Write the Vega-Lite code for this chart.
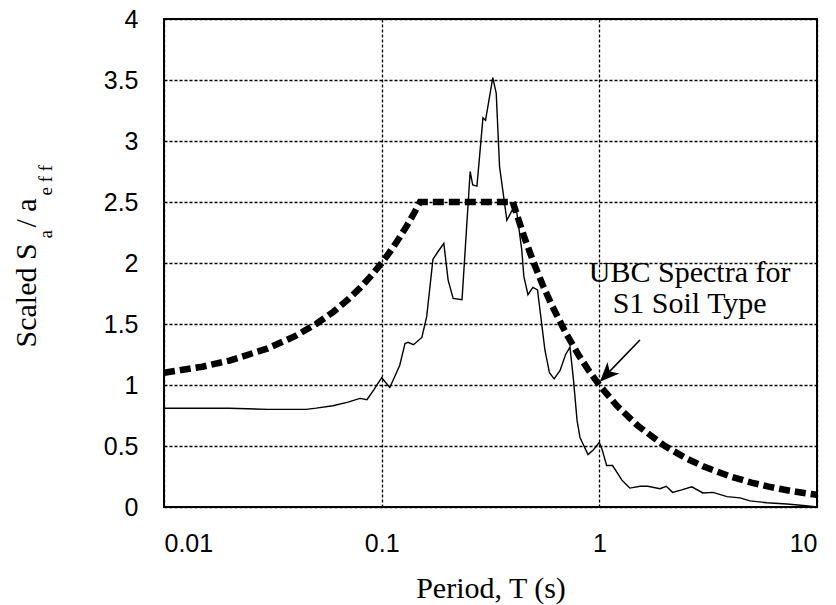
{
  "$schema": "https://vega.github.io/schema/vega-lite/v6.json",
  "width": 653,
  "height": 488,
  "autosize": "none",
  "padding": {"left": 164, "top": 19, "right": 19, "bottom": 98},
  "background": "white",
  "config": {
    "view": {"stroke": "black", "strokeWidth": 2},
    "axis": {
      "labelFont": "Liberation Sans",
      "labelFontSize": 25,
      "labelColor": "black",
      "titleFont": "Liberation Serif",
      "titleFontSize": 30,
      "titleFontWeight": "normal",
      "titleColor": "black",
      "domain": false,
      "gridColor": "black",
      "gridDash": [3, 2],
      "gridWidth": 1.3,
      "gridOpacity": 1,
      "tickColor": "black"
    }
  },
  "datasets": {
    "ubc": [
      {"T": 0.01, "sa": 1.1}, {"T": 0.015, "sa": 1.15}, {"T": 0.02, "sa": 1.2},
      {"T": 0.03, "sa": 1.3}, {"T": 0.04, "sa": 1.4}, {"T": 0.05, "sa": 1.5},
      {"T": 0.06, "sa": 1.6}, {"T": 0.07, "sa": 1.7}, {"T": 0.08, "sa": 1.8},
      {"T": 0.09, "sa": 1.9}, {"T": 0.1, "sa": 2.0}, {"T": 0.11, "sa": 2.1},
      {"T": 0.12, "sa": 2.2}, {"T": 0.13, "sa": 2.3}, {"T": 0.14, "sa": 2.4},
      {"T": 0.15, "sa": 2.5}, {"T": 0.4, "sa": 2.5}, {"T": 0.45, "sa": 2.222},
      {"T": 0.5, "sa": 2.0}, {"T": 0.55, "sa": 1.818}, {"T": 0.6, "sa": 1.667},
      {"T": 0.7, "sa": 1.429}, {"T": 0.8, "sa": 1.25}, {"T": 0.9, "sa": 1.111},
      {"T": 1.0, "sa": 1.0}, {"T": 1.2, "sa": 0.833}, {"T": 1.5, "sa": 0.667},
      {"T": 2.0, "sa": 0.5}, {"T": 2.5, "sa": 0.4}, {"T": 3.0, "sa": 0.333},
      {"T": 4.0, "sa": 0.25}, {"T": 5.0, "sa": 0.2}, {"T": 6.0, "sa": 0.167},
      {"T": 7.0, "sa": 0.143}, {"T": 8.0, "sa": 0.125}, {"T": 9.0, "sa": 0.111},
      {"T": 10.0, "sa": 0.1}
    ],
    "record": [
      {"T": 0.01, "sa": 0.81}, {"T": 0.02, "sa": 0.81}, {"T": 0.03, "sa": 0.8},
      {"T": 0.04, "sa": 0.8}, {"T": 0.045, "sa": 0.8}, {"T": 0.05, "sa": 0.81},
      {"T": 0.0597, "sa": 0.83}, {"T": 0.07, "sa": 0.86}, {"T": 0.0795, "sa": 0.89},
      {"T": 0.0856, "sa": 0.88}, {"T": 0.092, "sa": 0.96}, {"T": 0.1, "sa": 1.06},
      {"T": 0.109, "sa": 0.98}, {"T": 0.121, "sa": 1.16}, {"T": 0.128, "sa": 1.34},
      {"T": 0.132, "sa": 1.35}, {"T": 0.14, "sa": 1.33}, {"T": 0.153, "sa": 1.39},
      {"T": 0.161, "sa": 1.56}, {"T": 0.172, "sa": 2.03}, {"T": 0.181, "sa": 2.09},
      {"T": 0.193, "sa": 2.16}, {"T": 0.202, "sa": 1.86}, {"T": 0.213, "sa": 1.71},
      {"T": 0.234, "sa": 1.7}, {"T": 0.255, "sa": 2.75}, {"T": 0.262, "sa": 2.64},
      {"T": 0.274, "sa": 2.63}, {"T": 0.292, "sa": 3.19}, {"T": 0.3, "sa": 3.17},
      {"T": 0.324, "sa": 3.52}, {"T": 0.336, "sa": 3.39}, {"T": 0.348, "sa": 2.79},
      {"T": 0.376, "sa": 2.35}, {"T": 0.397, "sa": 2.43}, {"T": 0.418, "sa": 2.41},
      {"T": 0.44, "sa": 2.11}, {"T": 0.45, "sa": 1.89}, {"T": 0.47, "sa": 1.74},
      {"T": 0.495, "sa": 1.8}, {"T": 0.52, "sa": 1.78}, {"T": 0.562, "sa": 1.29},
      {"T": 0.59, "sa": 1.1}, {"T": 0.62, "sa": 1.05}, {"T": 0.66, "sa": 1.12},
      {"T": 0.7, "sa": 1.25}, {"T": 0.733, "sa": 1.31}, {"T": 0.76, "sa": 1.05},
      {"T": 0.79, "sa": 0.71}, {"T": 0.815, "sa": 0.57}, {"T": 0.887, "sa": 0.43},
      {"T": 0.94, "sa": 0.47}, {"T": 1.0, "sa": 0.53}, {"T": 1.03, "sa": 0.47},
      {"T": 1.08, "sa": 0.34}, {"T": 1.15, "sa": 0.34}, {"T": 1.27, "sa": 0.22},
      {"T": 1.38, "sa": 0.155}, {"T": 1.54, "sa": 0.17}, {"T": 1.67, "sa": 0.17},
      {"T": 1.9, "sa": 0.15}, {"T": 2.03, "sa": 0.17}, {"T": 2.17, "sa": 0.12},
      {"T": 2.39, "sa": 0.14}, {"T": 2.66, "sa": 0.165}, {"T": 2.99, "sa": 0.115},
      {"T": 3.33, "sa": 0.12}, {"T": 3.86, "sa": 0.085}, {"T": 4.43, "sa": 0.075},
      {"T": 4.92, "sa": 0.05}, {"T": 5.89, "sa": 0.035}, {"T": 7.27, "sa": 0.025},
      {"T": 8.9, "sa": 0.01}, {"T": 10.0, "sa": 0.0}
    ],
    "note": [
      {"T": 2.6, "sa": 1.844, "label": "UBC Spectra for\nS1 Soil Type"}
    ],
    "arrow": [
      {"T": 1.536, "sa": 1.369, "k": 0},
      {"T": 1.02, "sa": 1.04, "k": 1}
    ],
    "head": [
      {"T": 1.006, "sa": 1.027}
    ]
  },
  "resolve": {"axis": {"x": "independent", "y": "independent"}},
  "layer": [
    {
      "data": {"name": "ubc"},
      "mark": {"type": "line", "color": "black", "strokeWidth": 6.5, "strokeDash": [11, 5], "strokeCap": "butt"},
      "encoding": {
        "x": {
          "field": "T", "type": "quantitative",
          "scale": {"type": "log", "domain": [0.01, 10]},
          "axis": {
            "orient": "bottom",
            "values": [0.01, 0.1, 1, 10],
            "format": "~g",
            "grid": true,
            "ticks": false,
            "tickSize": 0,
            "labelPadding": 24,
            "title": "Period, T (s)",
            "titleFont": "Liberation Serif",
            "titleX": 326.5,
            "titleY": 90,
            "titleAlign": "center",
            "titleBaseline": "alphabetic"
          }
        },
        "y": {
          "field": "sa", "type": "quantitative",
          "scale": {"domain": [0, 4]},
          "axis": {
            "orient": "left",
            "values": [0, 0.5, 1, 1.5, 2, 2.5, 3, 3.5, 4],
            "format": "~g",
            "grid": true,
            "ticks": false,
            "tickSize": 0,
            "labelPadding": 26,
            "title": "Scaled S",
            "titleFont": "Liberation Serif",
            "titleFontSize": 30,
            "titleAngle": -90,
            "titleAlign": "left",
            "titleBaseline": "alphabetic",
            "titleX": -129,
            "titleY": 328
          }
        }
      }
    },
    {
      "data": {"name": "record"},
      "mark": {"type": "line", "color": "black", "strokeWidth": 1.4},
      "encoding": {
        "x": {"field": "T", "type": "quantitative", "scale": {"type": "log", "domain": [0.01, 10]}, "axis": null},
        "y": {
          "field": "sa", "type": "quantitative",
          "scale": {"domain": [0, 4]},
          "axis": {
            "orient": "left",
            "labels": false, "ticks": false, "grid": false, "domain": false,
            "title": "a",
            "titleFont": "Liberation Serif",
            "titleFontSize": 19,
            "titleAngle": -90,
            "titleAlign": "left",
            "titleBaseline": "alphabetic",
            "titleX": -113,
            "titleY": 219
          }
        }
      }
    },
    {
      "data": {"name": "note"},
      "mark": {"type": "text", "font": "Liberation Serif", "fontSize": 30, "color": "black", "align": "center", "baseline": "alphabetic", "lineBreak": "\n", "lineHeight": 31},
      "encoding": {
        "x": {"field": "T", "type": "quantitative", "scale": {"type": "log", "domain": [0.01, 10]}, "axis": null},
        "y": {
          "field": "sa", "type": "quantitative",
          "scale": {"domain": [0, 4]},
          "axis": {
            "orient": "left",
            "labels": false, "ticks": false, "grid": false, "domain": false,
            "title": "/ a",
            "titleFont": "Liberation Serif",
            "titleFontSize": 30,
            "titleAngle": -90,
            "titleAlign": "left",
            "titleBaseline": "alphabetic",
            "titleX": -129,
            "titleY": 208
          }
        },
        "text": {"field": "label", "type": "nominal"}
      }
    },
    {
      "data": {"name": "arrow"},
      "mark": {"type": "line", "color": "black", "strokeWidth": 1.6},
      "encoding": {
        "x": {"field": "T", "type": "quantitative", "scale": {"type": "log", "domain": [0.01, 10]}, "axis": null},
        "y": {
          "field": "sa", "type": "quantitative",
          "scale": {"domain": [0, 4]},
          "axis": {
            "orient": "left",
            "labels": false, "ticks": false, "grid": false, "domain": false,
            "title": "e f f",
            "titleFont": "Liberation Serif",
            "titleFontSize": 19,
            "titleAngle": -90,
            "titleAlign": "left",
            "titleBaseline": "alphabetic",
            "titleX": -113,
            "titleY": 176
          }
        },
        "order": {"field": "k", "type": "quantitative"}
      }
    },
    {
      "data": {"name": "head"},
      "mark": {"type": "point", "shape": "M0,0 L0.85,2 L0,1.45 L-0.85,2 Z", "filled": true, "color": "black", "opacity": 1, "size": 380, "angle": 224},
      "encoding": {
        "x": {"field": "T", "type": "quantitative", "scale": {"type": "log", "domain": [0.01, 10]}, "axis": null},
        "y": {"field": "sa", "type": "quantitative", "scale": {"domain": [0, 4]}, "axis": null}
      }
    }
  ]
}
